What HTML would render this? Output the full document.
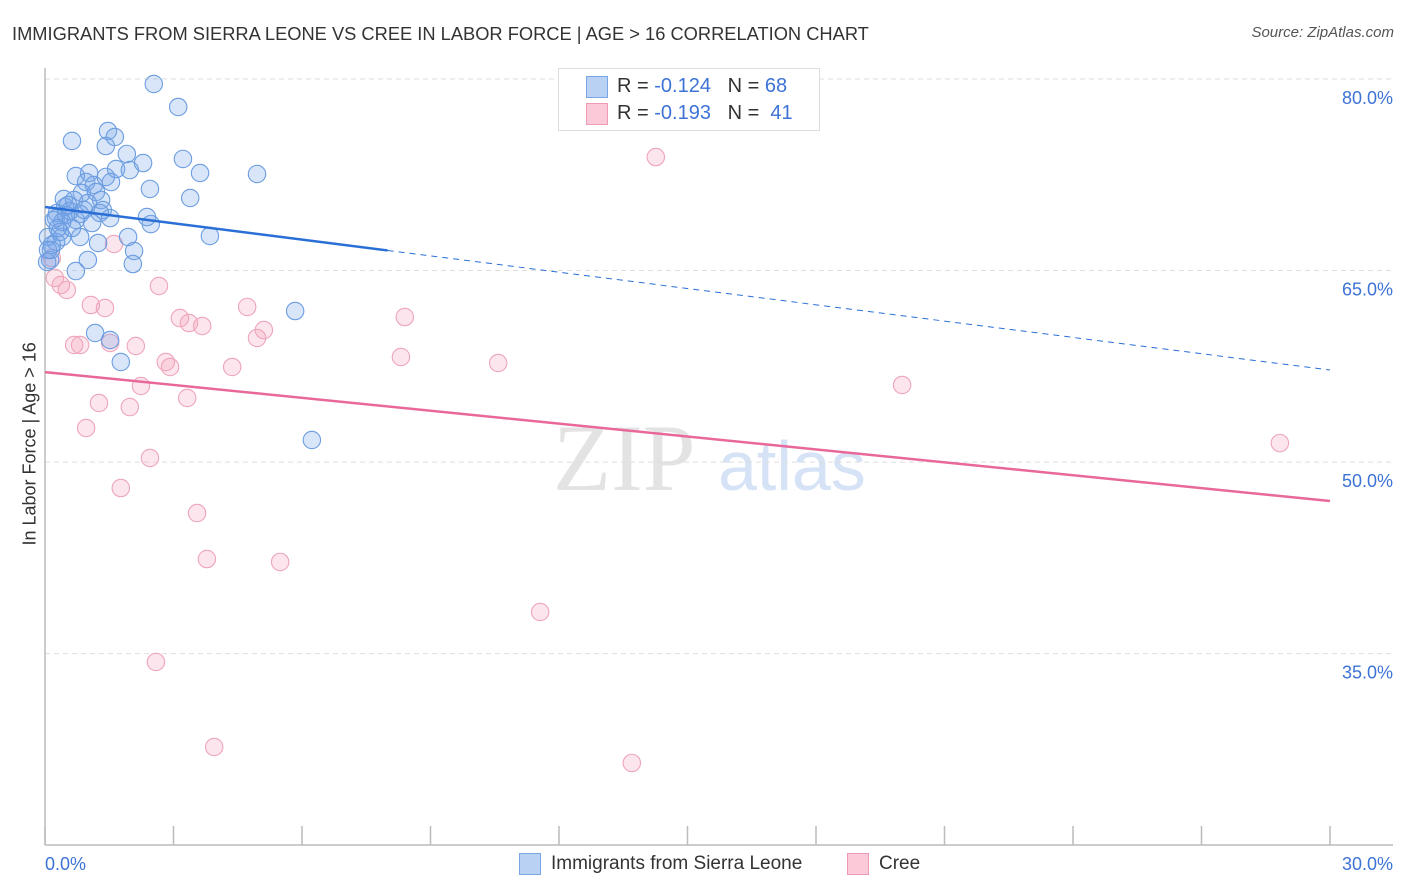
<!DOCTYPE html>
<html><head><meta charset="utf-8">
<style>
body{margin:0;background:#fff;font-family:"Liberation Sans",sans-serif;}
#wrap{position:relative;width:1406px;height:892px;overflow:hidden;}
.t{position:absolute;white-space:nowrap;}
</style></head>
<body>
<div id="wrap">
<div class="t" style="left:12px;top:23px;font-size:18.3px;color:#333;">IMMIGRANTS FROM SIERRA LEONE VS CREE IN LABOR FORCE | AGE &gt; 16 CORRELATION CHART</div>
<div class="t" style="right:12px;top:24px;font-size:15px;color:#555;font-style:italic;">Source: ZipAtlas.com</div>
<div class="t" style="left:-60px;top:445px;font-size:18px;color:#333;transform:rotate(-90deg);width:180px;text-align:center;">In Labor Force | Age &gt; 16</div>
<svg id="svg" width="1406" height="892" style="position:absolute;left:0;top:0;"></svg>
<div style="position:absolute;left:558px;top:68px;width:260px;height:61px;border:1px solid #ddd;background:#fff;">
 <div style="position:absolute;left:27px;top:7px;width:20px;height:20px;background:#b9d1f3;border:1px solid #7aa6e6;"></div>
 <div class="t" style="left:58px;top:6px;font-size:20px;color:#333;">R = <span style="color:#3d73d6">-0.124</span>&nbsp;&nbsp;&nbsp;N = <span style="color:#3d73d6">68</span></div>
 <div style="position:absolute;left:27px;top:34px;width:20px;height:20px;background:#fbc9d7;border:1px solid #f09ab5;"></div>
 <div class="t" style="left:58px;top:33px;font-size:20px;color:#333;">R = <span style="color:#3d73d6">-0.193</span>&nbsp;&nbsp;&nbsp;N = <span style="color:#3d73d6">&nbsp;41</span></div>
</div>
<div style="position:absolute;left:519px;top:853px;width:20px;height:20px;background:#b9d1f3;border:1px solid #7aa6e6;"></div>
<div class="t" style="left:551px;top:853px;font-size:19px;color:#333;">Immigrants from Sierra Leone</div>
<div style="position:absolute;left:847px;top:853px;width:20px;height:20px;background:#fbc9d7;border:1px solid #f09ab5;"></div>
<div class="t" style="left:879px;top:853px;font-size:19px;color:#333;">Cree</div>
</div>
<script>
const yTicks=[80,65,50,35];
const yTickLabels=["80.0%","65.0%","50.0%","35.0%"];
const xTicks=[0,3,6,9,12,15,18,21,24,27,30];
const blueX=[2.54,3.11,0.63,1.47,1.63,1.42,1.91,2.29,3.22,1.66,1.03,0.72,3.62,4.95,0.96,1.54,1.14,2.45,0.86,1.19,3.39,0.44,0.68,1.31,1.00,0.47,0.58,0.28,0.82,1.35,1.52,2.38,2.47,0.26,0.40,1.10,0.72,0.07,0.40,0.82,1.24,1.94,3.85,0.26,0.14,2.08,1.00,0.05,0.72,2.05,5.84,1.17,1.52,1.77,6.23,0.49,0.16,0.21,0.12,0.35,0.54,0.91,0.63,1.42,1.98,1.28,0.30,0.07];
const blueY=[79.61,77.81,75.15,75.93,75.46,74.75,74.13,73.42,73.74,72.95,72.64,72.40,72.64,72.56,71.93,71.93,71.70,71.39,71.07,71.15,70.68,70.60,70.52,70.52,70.29,69.98,69.66,69.51,69.43,69.74,69.11,69.19,68.64,69.11,68.80,68.72,68.96,67.63,67.63,67.63,67.16,67.63,67.71,67.24,66.61,66.53,65.83,65.67,64.96,65.51,61.83,60.11,59.56,57.84,51.73,69.35,67.00,68.96,65.83,68.02,70.13,69.74,68.33,72.33,72.87,69.51,68.33,66.61];
const pinkX=[14.26,1.61,0.16,0.23,0.37,0.51,2.66,1.07,1.40,4.72,3.15,3.36,3.67,8.40,5.11,4.95,0.68,0.82,1.52,2.12,8.31,10.58,2.82,2.92,4.37,20.01,2.24,1.26,3.32,1.98,0.96,28.83,2.45,1.77,3.55,3.78,5.49,11.56,2.59,3.95,13.70];
const pinkY=[73.89,67.08,65.98,64.42,63.87,63.48,63.79,62.30,62.07,62.15,61.28,60.89,60.66,61.36,60.34,59.72,59.17,59.17,59.33,59.09,58.23,57.76,57.84,57.45,57.45,56.04,55.96,54.63,55.02,54.31,52.67,51.49,50.32,47.97,46.01,42.41,42.18,38.26,34.35,27.69,26.44];
const blueTrend=[69.98,57.21];
const pinkTrend=[57.05,46.95];
const blueSolidEnd=8.0;

const X0=45,X1=1330,XMAX=30;
const sx=v=>X0+(v/XMAX)*(X1-X0);
const sy=v=>79+(80-v)*12.77;
const svg=document.getElementById('svg');
const NS='http://www.w3.org/2000/svg';
function mk(tag,attrs){const e=document.createElementNS(NS,tag);for(const k in attrs)e.setAttribute(k,attrs[k]);svg.appendChild(e);return e;}

let wm=mk('text',{x:553,y:490,'font-size':95,fill:'#e3e3e3','font-family':'Liberation Serif, serif'});
wm.textContent='ZIP';


let wm2=mk('text',{x:718,y:490,'font-size':70,fill:'#d6e3f6','font-family':'Liberation Sans, sans-serif'});
wm2.textContent='atlas';



yTicks.forEach((v,i)=>{
  const g=mk('line',{x1:X0,x2:1393,y1:sy(v),y2:sy(v),stroke:'#dedede','stroke-dasharray':'5,4'});
  
  
  const t=mk('text',{x:1393,y:sy(v)+25,'text-anchor':'end','font-size':18,fill:'#3d73d6','font-family':'Liberation Sans, sans-serif'});
  t.textContent=yTickLabels[i];
  
  
});
let ax=mk('line',{x1:X0,x2:X0,y1:68,y2:845,stroke:'#bbb','stroke-width':1.5});


let bx=mk('line',{x1:X0,x2:1393,y1:845,y2:845,stroke:'#bbb','stroke-width':1.5});


xTicks.forEach(v=>{
  const t=mk('line',{x1:sx(v),x2:sx(v),y1:826,y2:845,stroke:'#bbb','stroke-width':1.5});
  
  
});
let xl=mk('text',{x:45,y:870,'font-size':18,fill:'#3d73d6','font-family':'Liberation Sans, sans-serif'});
xl.textContent='0.0%';


let xr=mk('text',{x:1393,y:870,'text-anchor':'end','font-size':18,fill:'#3d73d6','font-family':'Liberation Sans, sans-serif'});
xr.textContent='30.0%';



pinkX.forEach((x,i)=>{
  const c=mk('circle',{cx:sx(x),cy:sy(pinkY[i]),r:8.7,fill:'rgba(244,160,186,0.28)',stroke:'#eea5bb','stroke-width':1.1});
  
  
});
blueX.forEach((x,i)=>{
  const c=mk('circle',{cx:sx(x),cy:sy(blueY[i]),r:8.7,fill:'rgba(120,165,232,0.28)',stroke:'#6c9de0','stroke-width':1.1});
  
  
});
const bAt=x=>blueTrend[0]+(blueTrend[1]-blueTrend[0])*x/XMAX;
let bl=mk('line',{x1:sx(0),y1:sy(bAt(0)),x2:sx(blueSolidEnd),y2:sy(bAt(blueSolidEnd)),stroke:'#2a6fd6','stroke-width':2.5});


let bd=mk('line',{x1:sx(blueSolidEnd),y1:sy(bAt(blueSolidEnd)),x2:sx(30),y2:sy(bAt(30)),stroke:'#2a6fd6','stroke-width':1,'stroke-dasharray':'6,5'});


let pl=mk('line',{x1:sx(0),y1:sy(pinkTrend[0]),x2:sx(30),y2:sy(pinkTrend[1]),stroke:'#e8689a','stroke-width':2.5});


</script>
</body></html>
